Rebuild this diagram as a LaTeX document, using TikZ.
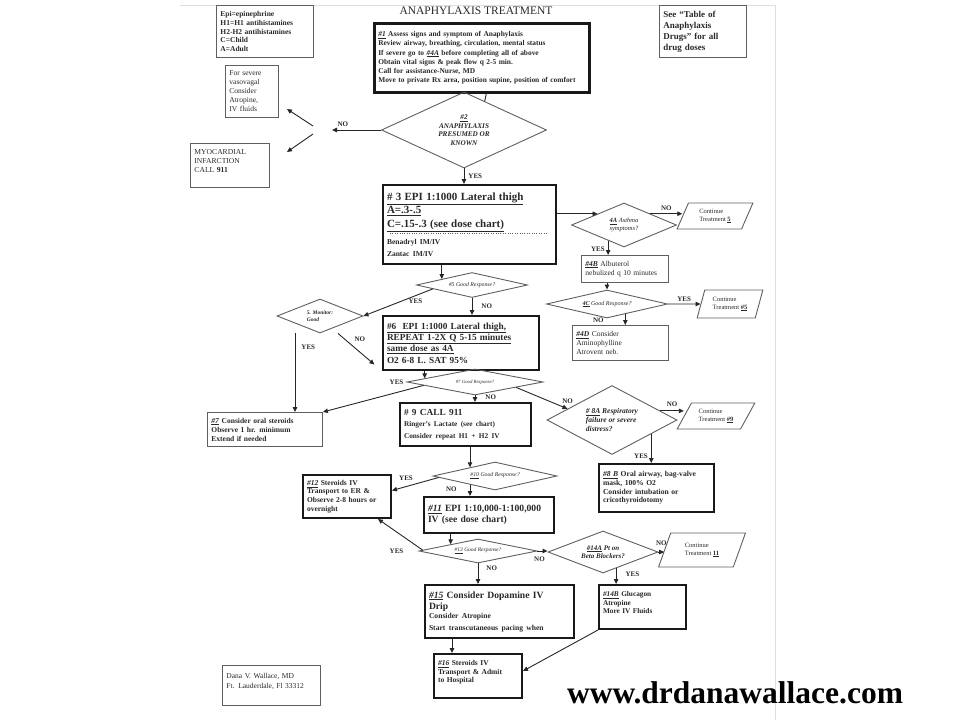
\documentclass[tikz,border=0pt]{standalone}
\usepackage{fontspec}
\setmainfont{Liberation Serif}
\usetikzlibrary{shapes.geometric,arrows.meta,calc}

\definecolor{inkgray}{RGB}{40,40,40}
\definecolor{edgegray}{RGB}{95,95,95}
\definecolor{pagegray}{RGB}{222,222,222}

\newcommand{\fsz}[2]{\fontsize{#1}{#2}\selectfont}
\newcommand{\stepno}[1]{\underline{\textit{#1}}}

\tikzset{
  plainbox/.style={draw=edgegray, line width=0.9pt, text=inkgray, anchor=north west,
    align=left, inner xsep=4pt, inner ysep=1pt},
  heavybox/.style={plainbox, draw=black!90, line width=2pt},
  choice/.style={diamond, aspect=#1, draw=edgegray, line width=0.9pt, text=inkgray,
    inner sep=0pt, align=center, font=\fsz{5.8}{7}\itshape},
  goon/.style={trapezium, trapezium left angle=65, trapezium right angle=115,
    trapezium stretches=true, draw=edgegray, line width=0.9pt, text=inkgray,
    inner sep=0pt, align=left, font=\fsz{6.5}{8}},
  link/.style={draw=black!85, line width=0.9pt, ->},
  tag/.style={text=inkgray, font=\fsz{7}{7}\bfseries, inner sep=1pt},
}

\begin{document}
\begin{tikzpicture}[x=1pt, y=-1pt, >={Triangle[length=5pt,width=4.5pt]}]
  \useasboundingbox (0,0) rectangle (960,720);

  % scanned page edges
  \draw[pagegray, line width=0.8pt] (180,5) -- (775,5) -- (775,720);

  % header row
  \node[plainbox, minimum width=97, minimum height=52, text width=89pt,
        font=\fsz{7.5}{8.7}\bfseries] (legend) at (216,5)
    {Epi=epinephrine\\H1=H1 antihistamines\\H2-H2 antihistamines\\C=Child\\A=Adult};
  \node[text=inkgray, font=\fsz{11.5}{12}] (title) at (476,11) {ANAPHYLAXIS TREATMENT};
  \node[plainbox, minimum width=87, minimum height=52, text width=79pt,
        font=\fsz{9}{11}\bfseries] (doses) at (659,5)
    {See “Table of\\Anaphylaxis\\Drugs” for all\\drug doses};

  % step 1 and 2
  \node[heavybox, line width=2.6pt, minimum width=215, minimum height=69, text width=207pt,
        font=\fsz{7.4}{9.1}\bfseries] (s1) at (373,22)
    {\stepno{\#1} Assess signs and symptom of Anaphylaxis\\
     Review airway, breathing, circulation, mental status\\
     If severe go to \stepno{\#4A} before completing all of above\\
     Obtain vital signs \& peak flow q 2-5 min.\\
     Call for assistance-Nurse, MD\\
     Move to private Rx area, position supine, position of comfort};
  \node[choice=2.2, minimum width=165, minimum height=76, font=\fsz{7.2}{8.5}\bfseries\itshape] (d2) at (464,130)
    {\underline{\#2}\\ANAPHYLAXIS\\PRESUMED OR\\KNOWN};
  \node[plainbox, minimum width=53, minimum height=52, text width=45pt, font=\fsz{7.5}{9}] (vaso) at (225,65)
    {For severe\\vasovagal\\Consider\\Atropine,\\IV fluids};
  \node[plainbox, minimum width=79, minimum height=44, text width=71pt, font=\fsz{7.6}{9}] (mi) at (190,143)
    {MYOCARDIAL\\INFARCTION\\CALL \textbf{911}\\\mbox{}};

  % step 3 and asthma branch
  \node[heavybox, minimum width=173, minimum height=79, text width=165pt] (s3) at (382,184)
    {\fsz{11}{13.5}\bfseries\underline{\# 3 EPI 1:1000 Lateral thigh}\\
     \underline{A=.3-.5}\\
     \underline{C=.15-.3 (see dose chart)}\par\vspace{6pt}
     \fsz{7.5}{9}\bfseries Benadryl IM/IV\\Zantac IM/IV};
  \draw[dotted, edgegray] ($(s3.north west)+(8,49)$) -- ($(s3.north east)+(-10,49)$);
  \node[choice=2.4, minimum width=105, minimum height=44, font=\fsz{6.5}{7.6}\itshape] (d4a) at (624,225)
    {\textbf{\underline{4A}} Asthma\\symptoms?};
  \node[goon, minimum width=76, minimum height=26] (c5) at (715,216)
    {Continue\\Treatment \textbf{\underline{5}}};
  \node[plainbox, minimum width=87, minimum height=27, text width=79pt, font=\fsz{7.5}{9}] (s4b) at (581,255)
    {\textbf{\stepno{\#4B}} Albuterol\\nebulized q 10 minutes};
  \node[choice=4.3, minimum width=121, minimum height=28, font=\fsz{6}{7}\itshape] (d4c) at (607,304)
    {\textbf{\underline{4C}} Good Response?};
  \node[goon, trapezium left angle=70, trapezium right angle=110, minimum width=66, minimum height=28] (c5b) at (730,304)
    {Continue\\Treatment \textbf{\underline{\#5}}};
  \node[plainbox, minimum width=96, minimum height=35, text width=88pt, font=\fsz{7.5}{8.8}] (s4d) at (572,325)
    {\textbf{\stepno{\#4D}} Consider\\Aminophylline\\Atrovent neb.};

  % steps 5 to 7
  \node[choice=4.4, minimum width=111, minimum height=25] (d5) at (472,285) {\#5 Good Response?};
  \node[choice=2.5, minimum width=86, minimum height=34, align=left, font=\fsz{5.5}{7}\bfseries\itshape] (dmon) at (320,316)
    {5. Monitor:\\Good};
  \node[heavybox, minimum width=156, minimum height=54, text width=148pt, font=\fsz{9.3}{11.3}\bfseries] (s6) at (382,315)
    {\underline{\#6\ \ EPI 1:1000 Lateral thigh,}\\
     \underline{REPEAT 1-2X Q 5-15 minutes}\\
     \underline{same dose as 4A}\\
     O2 6-8 L. SAT 95\%};
  \node[choice=5.2, minimum width=136, minimum height=26, font=\fsz{4.8}{6}\itshape] (d7) at (475,382) {\#7 Good Response?};
  \node[plainbox, minimum width=115, minimum height=34, text width=107pt, font=\fsz{7.5}{9}\bfseries] (s7) at (207,412)
    {\stepno{\#7} Consider oral steroids\\Observe 1 hr. minimum\\Extend if needed};

  % steps 8 and 9
  \node[heavybox, minimum width=131, minimum height=43, text width=123pt] (s9) at (399,402)
    {\fsz{9.3}{10}\bfseries \# 9 CALL 911\par\vspace{1.5pt}
     \fsz{7.3}{9.5}\bfseries Ringer’s Lactate (see chart)\\Consider repeat H1 + H2 IV};
  \node[choice=1.9, minimum width=130, minimum height=69, align=left, font=\fsz{7.5}{9}\bfseries\itshape] (d8a) at (612,420)
    {\underline{\# 8A} Respiratory\\failure or severe\\distress?};
  \node[goon, trapezium left angle=55, trapezium right angle=125, minimum width=78, minimum height=26] (c9) at (716,416)
    {Continue\\Treatment \textbf{\underline{\#9}}};
  \node[heavybox, minimum width=115, minimum height=48, text width=107pt, font=\fsz{7.6}{8.7}\bfseries] (s8b) at (598,463)
    {\stepno{\#8 B} Oral airway, bag-valve\\mask, 100\% O2\\Consider intubation or\\cricothyroidotomy};

  % steps 10 to 13
  \node[choice=4.4, minimum width=124, minimum height=28] (d10) at (495,476) {\underline{\#10} Good Response?};
  \node[heavybox, minimum width=88, minimum height=43, text width=80pt, font=\fsz{7.5}{8.6}\bfseries] (s12) at (302,474)
    {\stepno{\#12} Steroids IV\\Transport to ER \&\\Observe 2-8 hours or\\overnight};
  \node[heavybox, minimum width=130, minimum height=36, text width=122pt, font=\fsz{9.6}{11.5}\bfseries] (s11) at (423,496)
    {\stepno{\#11} EPI 1:10,000-1:100,000\\IV (see dose chart)};
  \node[choice=4.9, minimum width=118, minimum height=24, font=\fsz{5.5}{6.5}\itshape] (d13) at (478,551) {\underline{\#13} Good Response?};

  % beta blocker branch and last steps
  \node[choice=2.6, minimum width=110, minimum height=42, font=\fsz{7}{8.3}\bfseries\itshape] (d14a) at (603,552)
    {\underline{\#14A} Pt on\\Beta Blockers?};
  \node[goon, minimum width=87, minimum height=34] (c11) at (702,550)
    {Continue\\Treatment \textbf{\underline{11}}};
  \node[heavybox, minimum width=87, minimum height=44, text width=79pt, font=\fsz{7.3}{8.6}\bfseries] (s14b) at (598,584)
    {\stepno{\#14B} Glucagon\\Atropine\\More IV Fluids\\\mbox{}};
  \node[heavybox, minimum width=149, minimum height=53, text width=141pt] (s15) at (424,584)
    {\fsz{9.6}{11}\bfseries\stepno{\#15} Consider Dopamine IV\\Drip\par
     \fsz{7.6}{9}\bfseries Consider Atropine\\Start transcutaneous pacing when};
  \node[heavybox, minimum width=88, minimum height=44, text width=80pt, font=\fsz{7.5}{8.6}\bfseries] (s16) at (433,653)
    {\stepno{\#16} Steroids IV\\Transport \& Admit\\to Hospital\\\mbox{}};

  % footer
  \node[plainbox, minimum width=98, minimum height=40, text width=90pt, font=\fsz{7.5}{10}] (sign) at (222,665)
    {Dana V. Wallace, MD\\Ft. Lauderdale, Fl 33312\\\mbox{}};
  \node[font=\fsz{31.5}{34}\bfseries, text=black, inner sep=0pt, anchor=base] (web) at (735,703) {www.drdanawallace.com};

  % connectors: top
  \draw[line width=0.9pt, black!85] ([xshift=4.5pt]s1.south) -- ($(d2.north)!0.25!(d2.east)$);
  \coordinate (noend) at (332,130);
  \draw[link] (d2.west) -- (noend) node[tag, pos=0.78, above=2pt] (tno2) {NO};
  \coordinate (forkup) at (313,126);
  \coordinate (forkdn) at (313,134);
  \coordinate (vasoarr) at (287,109);
  \coordinate (miarr) at (287,152);
  \draw[link] (forkup) -- (vasoarr);
  \draw[link] (forkdn) -- (miarr);
  \draw[link] (d2.south) -- (d2.south |- s3.north) node[tag, midway, right=3pt] (tyes2) {YES};

  % connectors: asthma branch
  \draw[link] (s3.east |- d4a.north west) -- (d4a.north west);
  \draw[link] (d4a.north east) -- (d4a.north east -| c5.west) node[tag, midway, above=2pt] (tno4a) {NO};
  \coordinate (yes4a) at ($(d4a.south)!0.3!(d4a.west)$);
  \draw[link] (yes4a) -- (yes4a |- s4b.north) node[tag, pos=0.6, left=2pt] (tyes4a) {YES};
  \draw[link] (s4b.south -| d4c.north) -- (d4c.north);
  \draw[link] (d4c.east) -- (c5b.west) node[tag, midway, above=1pt] (tyes4c) {YES};
  \coordinate (no4c) at ($(d4c.south)!0.3!(d4c.east)$);
  \draw[link] (no4c) -- (no4c |- s4d.north);
  \node[tag] (tno4c) at ($(no4c)+(-27,6)$) {NO};

  % connectors: steps 5 to 7
  \coordinate (in5) at ($(d5.north)!0.54!(d5.west)$);
  \draw[link] (in5 |- s3.south) -- (in5);
  \draw[link] ($(d5.west)!0.3!(d5.south)$) -- (dmon.east) node[tag, pos=0.25, below=2pt] (tyes5) {YES};
  \draw[link] (d5.south) -- (d5.south |- s6.north) node[tag, midway, right=8pt] (tno5) {NO};
  \draw[link] ([xshift=-25pt]dmon.south) -- ([xshift=-25pt]dmon.south |- s7.north)
    node[tag, pos=0.18, right=5pt] (tyesmon) {YES};
  \draw[link, shorten >=10pt] ([xshift=18pt]dmon.south) -- (s6.south west)
    node[tag, pos=0.3, above right=2pt] (tnomon) {NO};
  \coordinate (in7) at ($(d7.north)!0.735!(d7.west)$);
  \draw[link] (in7 |- s6.south) -- (in7);
  \draw[link] ($(d7.west)!0.25!(d7.south)$) -- (s7.north east);
  \node[tag, left=2pt] (tyes7) at (d7.west) {YES};
  \draw[link] (d7.south) -- (d7.south |- s9.north) node[tag, pos=0.2, right=9pt] (tno7) {NO};
  \draw[link] ($(d7.east)!0.4!(d7.south)$) -- ($(d8a.west)!0.32!(d8a.north)$)
    node[tag, pos=1, above=4pt] (tno8) {NO};

  % connectors: respiratory branch
  \coordinate (no8a) at ($(d8a.east)!0.26!(d8a.north)$);
  \draw[link] (no8a) -- (no8a -| c9.west) node[tag, midway, above=3pt] (tno8a) {NO};
  \coordinate (yes8a) at ($(d8a.east)!0.4!(d8a.south)$);
  \draw[link] (yes8a) -- (yes8a |- s8b.north) node[tag, pos=0.75, left=2pt] (tyes8a) {YES};

  % connectors: steps 9 to 13
  \coordinate (in10) at ($(d10.north)!0.4!(d10.west)$);
  \draw[link] (in10 |- s9.south) -- (in10);
  \draw[link] ($(d10.west)!0.1!(d10.south)$) -- ([yshift=6pt]s12.east)
    node[tag, pos=0.7, above=5pt] (tyes10) {YES};
  \coordinate (no10) at ($(d10.south)!0.4!(d10.west)$);
  \draw[link] (no10) -- (no10 |- s11.north) node[tag, pos=0.4, left=12pt] (tno10) {NO};
  \coordinate (in13) at ($(d13.north)!0.46!(d13.west)$);
  \draw[link] (in13 |- s11.south) -- (in13);
  \draw[link] ($(d13.west)!0.07!(d13.north)$) -- ([xshift=31pt]s12.south);
  \node[tag, left=14pt] (tyes13) at (d13.west) {YES};
  \draw[link] (d13.east) -- (d13.east -| d14a.west) node[tag, pos=0.2, below=4pt] (tno13r) {NO};
  \draw[link] (d13.south) -- (d13.south |- s15.north) node[tag, pos=0.25, right=7pt] (tno13d) {NO};

  % connectors: last steps
  \draw[link] (d14a.east) -- (d14a.east -| c11.west) node[tag, midway, above=5pt] (tno14) {NO};
  \coordinate (yes14) at ($(d14a.south)!0.236!(d14a.east)$);
  \draw[link] (yes14) -- (yes14 |- s14b.north) node[tag, pos=0.4, right=8pt] (tyes14) {YES};
  \draw[link] ([xshift=-26pt]s16.north |- s15.south) -- ([xshift=-26pt]s16.north);
  \draw[link] (s14b.south west) -- ([yshift=5pt]s16.east);

\end{tikzpicture}
\end{document}
